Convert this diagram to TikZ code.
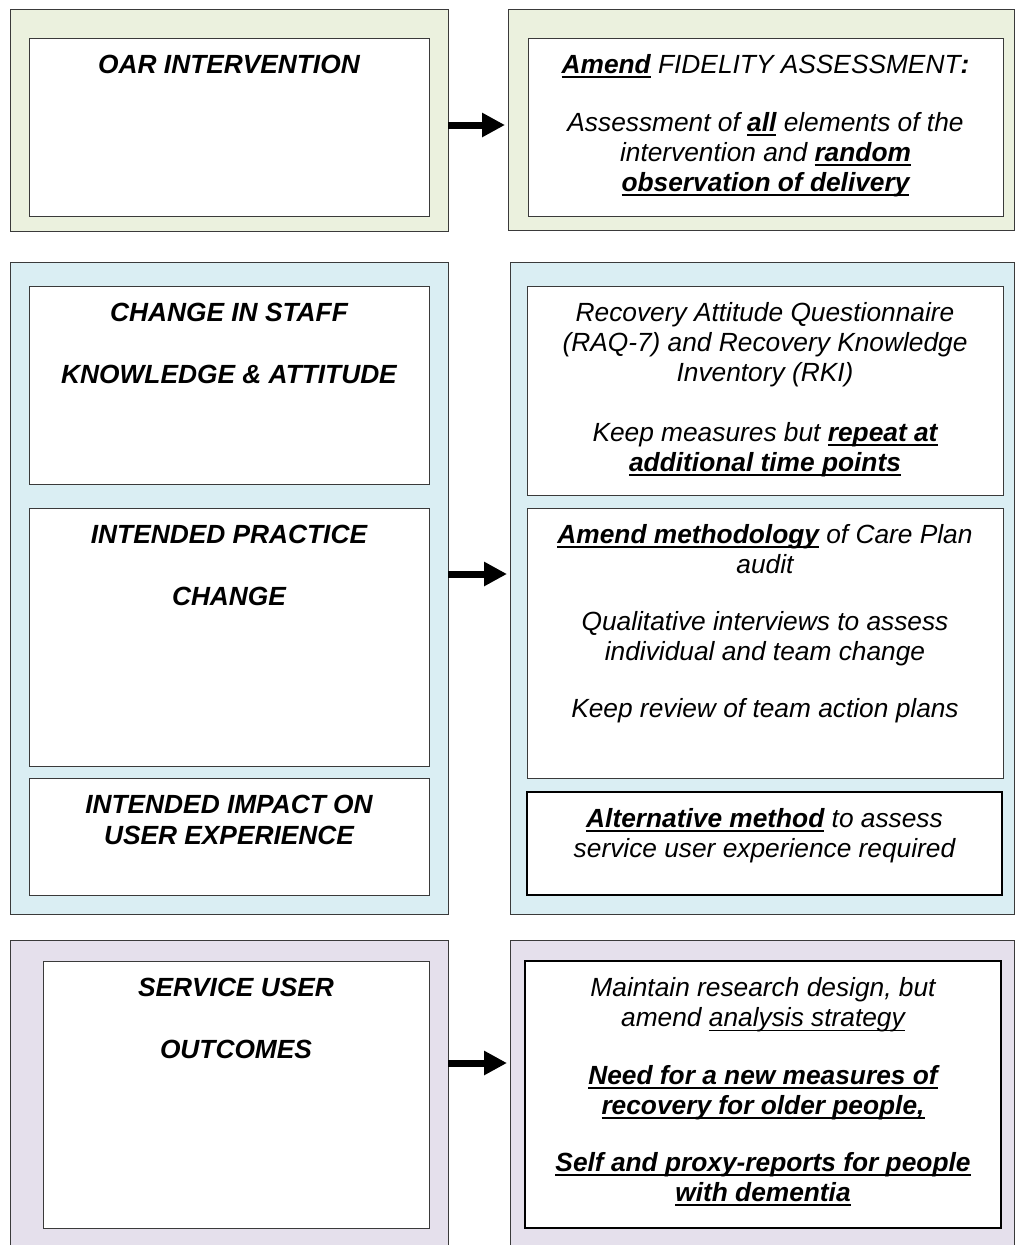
\documentclass[tikz,border=0pt]{standalone}
\usepackage{fontspec}
\setmainfont{Liberation Sans}
\usetikzlibrary{arrows.meta}
\definecolor{pgreen}{HTML}{EBF1DE}
\definecolor{pblue}{HTML}{DAEEF3}
\definecolor{ppurple}{HTML}{E5E0EC}
\definecolor{edgegray}{HTML}{3A3A3A}
\newcommand{\ulrule}[2]{\setbox0\hbox{#2}\rlap{\rule[-5pt]{\wd0}{#1}}\box0\relax}
\newcommand{\ulb}[1]{\ulrule{2.2pt}{\bfseries #1}}
\newcommand{\ulr}[1]{\ulrule{1.4pt}{#1}}
\begin{document}
\begin{tikzpicture}[x=1pt,y=-1pt,
  panel/.style={draw=edgegray, line width=1pt, anchor=north west, inner sep=0pt, outer sep=0pt},
  box/.style={draw=edgegray, fill=white, line width=1pt, anchor=north west, inner sep=0pt, outer sep=0pt},
  thickbox/.style={box, draw=black, line width=2pt},
  txt/.style={anchor=north, inner sep=0pt, outer sep=0pt, align=center, yshift=-14pt,
    font=\fontsize{26.3}{30}\selectfont\itshape},
  hdr/.style={txt, font=\fontsize{26.3}{31}\selectfont\bfseries\itshape},
  bigarrow/.style={line width=7pt, -{Triangle[length=23pt 0 0,width=23pt 0 0]}, shorten >=3pt}]
\useasboundingbox (0,0) rectangle (1015,1245);
\fill[white] (0,0) rectangle (1015,1245);
\begin{scope}
\clip (0,0) rectangle (1015,1245);
% row 1
\node[panel, fill=pgreen, minimum width=438pt, minimum height=222pt] (P1L) at (10,9) {};
\node[box, minimum width=400pt, minimum height=178pt] (B1L) at (29,38) {};
\node[panel, fill=pgreen, minimum width=506pt, minimum height=221pt] (P1R) at (508,9) {};
\node[box, minimum width=475pt, minimum height=178pt] (B1R) at (528,38) {};
% row 2
\node[panel, fill=pblue, minimum width=438pt, minimum height=652pt] (P2L) at (10,262) {};
\node[box, minimum width=400pt, minimum height=198pt] (B2La) at (29,286) {};
\node[box, minimum width=400pt, minimum height=258pt] (B2Lb) at (29,508) {};
\node[box, minimum width=400pt, minimum height=117pt] (B2Lc) at (29,778) {};
\node[panel, fill=pblue, minimum width=504pt, minimum height=652pt] (P2R) at (510,262) {};
\node[box, minimum width=476pt, minimum height=209pt] (B2Ra) at (527,286) {};
\node[box, minimum width=476pt, minimum height=270pt] (B2Rb) at (527,508) {};
\node[thickbox, minimum width=475pt, minimum height=103pt] (B2Rc) at (527,792) {};
% row 3
\node[panel, fill=ppurple, minimum width=438pt, minimum height=330pt] (P3L) at (10,940) {};
\node[box, minimum width=386pt, minimum height=267pt] (B3L) at (43,961) {};
\node[panel, fill=ppurple, minimum width=504pt, minimum height=330pt] (P3R) at (510,940) {};
\node[thickbox, minimum width=476pt, minimum height=267pt] (B3R) at (525,961) {};
\end{scope}
% texts
\node[hdr] (T1L) at (B1L.north) {\strut OAR INTERVENTION};
\node[txt] (T1R) at (B1R.north) {\strut\ulb{Amend} FIDELITY ASSESSMENT\textbf{:}\\[28pt]
  Assessment of \ulb{all} elements of the\\
  intervention and \ulb{random}\\
  \ulb{observation of delivery}};
\node[hdr] (T2La) at (B2La.north) {\strut CHANGE IN STAFF\\[31pt] KNOWLEDGE \& ATTITUDE};
\node[hdr] (T2Lb) at (B2Lb.north) {\strut INTENDED PRACTICE\\[31pt] CHANGE};
\node[hdr] (T2Lc) at (B2Lc.north) {\strut INTENDED IMPACT ON\\ USER EXPERIENCE};
\node[txt] (T2Ra) at (B2Ra.north) {\strut Recovery Attitude Questionnaire\\
  (RAQ-7) and Recovery Knowledge\\
  Inventory (RKI)\\[30pt]
  Keep measures but \ulb{repeat at}\\
  \ulb{additional time points}};
\node[txt] (T2Rb) at (B2Rb.north) {\strut\ulb{Amend methodology} of Care Plan\\
  audit\\[27pt]
  Qualitative interviews to assess\\
  individual and team change\\[27pt]
  Keep review of team action plans};
\node[txt] (T2Rc) at (B2Rc.north) {\strut\ulb{Alternative method} to assess\\
  service user experience required};
\node[hdr] (T3L) at (B3L.north) {\strut SERVICE USER\\[31pt] OUTCOMES};
\node[txt] (T3R) at (B3R.north) {\strut Maintain research design, but\\
  amend \ulr{analysis strategy}\\[28pt]
  \ulb{Need for a new measures of}\\
  \ulb{recovery for older people,}\\[27pt]
  \ulb{Self and proxy-reports for people}\\
  \ulb{with dementia}};
% arrows
\coordinate (y1) at (0,125);
\coordinate (y2) at (0,574);
\coordinate (y3) at (0,1063);
\draw[bigarrow] (P1L.east |- y1) -- (P1R.west |- y1);
\draw[bigarrow] (P2L.east |- y2) -- (P2R.west |- y2);
\draw[bigarrow] (P3L.east |- y3) -- (P3R.west |- y3);
\end{tikzpicture}
\end{document}
